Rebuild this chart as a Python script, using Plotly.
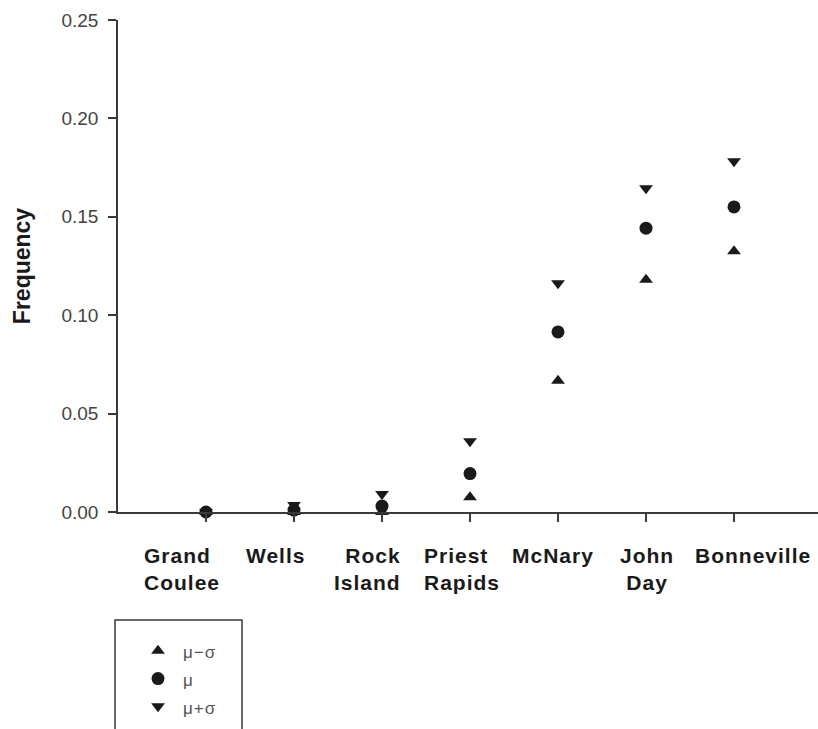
import plotly.graph_objects as go

# ---- data ----
dams = ["Grand<br>Coulee", "Wells", "Rock<br>Island", "Priest<br>Rapids", "McNary", "John<br>Day", "Bonneville"]
dam_pos = [1, 2, 3, 4, 5, 6, 7]
mu_minus_sigma = [0.0, 0.0, 0.0, 0.0075, 0.0667, 0.1180, 0.1325]
mu = [0.0, 0.001, 0.003, 0.0195, 0.0915, 0.1442, 0.1550]
mu_plus_sigma = [0.0, 0.0036, 0.0092, 0.0360, 0.1162, 0.1645, 0.1782]
y_ticks = [0.0, 0.05, 0.10, 0.15, 0.20, 0.25]
y_tick_text = ["0.00", "0.05", "0.10", "0.15", "0.20", "0.25"]
series_names = ["\u03bc\u2212\u03c3", "\u03bc", "\u03bc+\u03c3"]

# label placement (pixel offsets relative to each tick) and alignment
label_shift = [-64, -19, 21, -48, -5, 1, 19]
label_anchor = ["left", "center", "right", "left", "center", "center", "center"]

W, H = 818, 729
ML, MR, MT, MB = 118, 0, 20, 217
PW, PH = W - ML - MR, H - MT - MB


def px_x(px):
    return (px - ML) / PW


def px_y(py):
    return (H - MB - py) / PH


def spaced(text):
    return "<br>".join('<span style="letter-spacing:1px">%s</span>' % part for part in text.split("<br>"))


def legend_label(text):
    return '<span style="font-size:17px;letter-spacing:1px">%s</span>' % text


ink = "#1a1a1a"
fig = go.Figure()
fig.add_trace(go.Scatter(x=dam_pos, y=mu_minus_sigma, mode="markers", name=legend_label(series_names[0]),
                         marker=dict(symbol="triangle-up", size=12, color=ink), cliponaxis=False))
fig.add_trace(go.Scatter(x=dam_pos, y=mu, mode="markers", name=legend_label(series_names[1]),
                         marker=dict(symbol="circle", size=13, color=ink), cliponaxis=False))
fig.add_trace(go.Scatter(x=dam_pos, y=mu_plus_sigma, mode="markers", name=legend_label(series_names[2]),
                         marker=dict(symbol="triangle-down", size=12, color=ink), cliponaxis=False))

annotations = []
for name, pos, sh, anc in zip(dams, dam_pos, label_shift, label_anchor):
    annotations.append(dict(x=pos, y=0, xref="x", yref="paper", text="<b>%s</b>" % spaced(name),
                            showarrow=False, xanchor=anc, yanchor="top", align=anc, xshift=sh, yshift=-30,
                            font=dict(family="Liberation Sans", size=21, color="#1a1a1a")))

fig.update_layout(
    width=W, height=H,
    margin=dict(l=ML, r=MR, t=MT, b=MB, pad=0),
    paper_bgcolor="white", plot_bgcolor="white",
    showlegend=True,
    font=dict(family="Liberation Sans", color="#333333"),
    xaxis=dict(range=[0, (W - ML) / 88.0], showgrid=False, zeroline=False,
               showline=True, linecolor="#3a3a3a", linewidth=1.5,
               tickmode="array", tickvals=dam_pos, ticks="outside", ticklen=8,
               tickcolor="#3a3a3a", tickwidth=1.5, showticklabels=False, fixedrange=True),
    yaxis=dict(range=[0, 0.25], showgrid=False, zeroline=False,
               showline=True, linecolor="#3a3a3a", linewidth=1.5,
               tickmode="array", tickvals=y_ticks, ticktext=y_tick_text,
               ticks="outside", ticklen=8, tickcolor="#3a3a3a", tickwidth=1.5,
               tickfont=dict(family="Liberation Sans", size=19, color="#444444"),
               ticklabelstandoff=6, fixedrange=True,
               title=dict(text="<b>Frequency</b>", standoff=24,
                          font=dict(family="Liberation Sans", size=23, color="#1a1a1a"))),
    legend=dict(x=px_x(133), y=px_y(632), xanchor="left", yanchor="top",
                bgcolor="rgba(0,0,0,0)", borderwidth=0,
                font=dict(family="Liberation Sans", size=19, color="#555555"),
                itemwidth=40),
    annotations=annotations,
    shapes=[dict(type="rect", xref="paper", yref="paper",
                 x0=px_x(115), x1=px_x(242), y0=px_y(620), y1=px_y(745),
                 line=dict(color="#3a3a3a", width=1.5), fillcolor="rgba(0,0,0,0)")],
)

fig.write_html("out.html", config={"displayModeBar": False},
               post_script="document.body.style.margin='0';document.body.style.padding='0';"
                           "document.body.style.overflow='hidden';")
